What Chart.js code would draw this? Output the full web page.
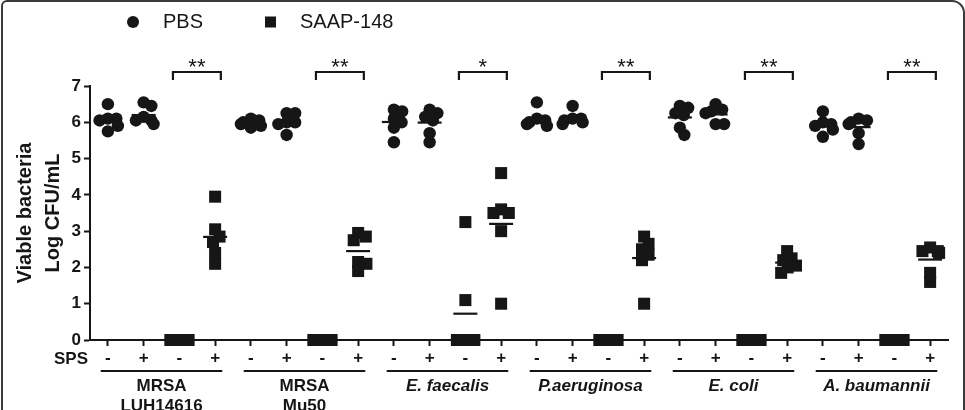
<!DOCTYPE html>
<html>
<head>
<meta charset="utf-8">
<script src="https://cdn.jsdelivr.net/npm/chart.js@4.4.1/dist/chart.umd.min.js"></script>
<style>
  html, body { margin: 0; padding: 0; background: #fff; }
  #wrap { position: absolute; left: 0; top: 0; width: 965px; height: 410px; overflow: hidden; }
  #frame { position: absolute; left: 1px; top: 0px; width: 960px; height: 430px;
           border: 2px solid #3a3a3a; border-radius: 6px 13px 0 0; pointer-events: none; }
  canvas { position: absolute; left: 0; top: 0; }
</style>
</head>
<body>
<div id="wrap">
  <canvas id="c" width="965" height="410"></canvas>
  <div id="frame"></div>
</div>
<script>
// ---------------- data ----------------
const GROUPS = [
  ['MRSA', 'LUH14616'],
  ['MRSA', 'Mu50'],
  ['E. faecalis'],
  ['P.aeruginosa'],
  ['E. coli'],
  ['A. baumannii']
];
const SERIES = ['PBS', 'SAAP-148'];
const SPS_TITLE = 'SPS';
const SPS_LABELS = ['-', '+', '-', '+', '-', '+', '-', '+', '-', '+', '-', '+',
                    '-', '+', '-', '+', '-', '+', '-', '+', '-', '+', '-', '+'];
const Y_TICKS = [0, 1, 2, 3, 4, 5, 6, 7];
const Y_TITLE = ['Viable bacteria', 'Log CFU/mL'];
const SIGNIFICANCE = ['**', '**', '*', '**', '**', '**'];

// Log CFU/mL per group (6 replicates each)
const PBS_NO_SPS = [
  [6.5, 6.1, 6.1, 6.05, 5.9, 5.75],
  [6.1, 6.05, 6.0, 5.95, 5.9, 5.85],
  [6.35, 6.3, 6.1, 6.0, 5.85, 5.45],
  [6.55, 6.1, 6.05, 6.0, 5.95, 5.9],
  [6.45, 6.4, 6.25, 6.2, 5.85, 5.65],
  [6.3, 6.0, 5.95, 5.9, 5.8, 5.6]
];
const PBS_SPS = [
  [6.55, 6.45, 6.15, 6.05, 6.05, 5.95],
  [6.25, 6.25, 6.0, 6.0, 5.95, 5.65],
  [6.35, 6.25, 6.15, 6.05, 5.7, 5.45],
  [6.45, 6.1, 6.1, 6.05, 6.0, 5.95],
  [6.5, 6.35, 6.3, 6.25, 5.95, 5.95],
  [6.1, 6.05, 6.0, 5.95, 5.7, 5.4]
];
const SAAP_NO_SPS = [
  [0, 0, 0, 0, 0, 0],
  [0, 0, 0, 0, 0, 0],
  [3.25, 1.1, 0, 0, 0, 0],
  [0, 0, 0, 0, 0, 0],
  [0, 0, 0, 0, 0, 0],
  [0, 0, 0, 0, 0, 0]
];
const SAAP_SPS = [
  [3.95, 3.05, 2.85, 2.7, 2.4, 2.1],
  [2.95, 2.85, 2.75, 2.15, 2.1, 1.9],
  [4.6, 3.6, 3.5, 3.5, 3.0, 1.0],
  [2.85, 2.65, 2.5, 2.35, 2.2, 1.0],
  [2.45, 2.25, 2.2, 2.05, 2.0, 1.85],
  [2.55, 2.45, 2.45, 2.4, 1.85, 1.6]
];

// ---------------- build ----------------
const FONT = '"Liberation Sans", Arial, Helvetica, sans-serif';
const INK = '#161616';
const mean = a => a.reduce((s, v) => s + v, 0) / a.length;

const pbsPts = [], saapPts = [], meanPts = [];
GROUPS.forEach((g, gi) => {
  const sets = [PBS_NO_SPS[gi], PBS_SPS[gi], SAAP_NO_SPS[gi], SAAP_SPS[gi]];
  sets.forEach((vals, k) => {
    const x = gi * 4 + k;
    const target = k < 2 ? pbsPts : saapPts;
    vals.forEach(v => target.push({ x, y: v }));
    meanPts.push({ x, y: mean(vals) });
  });
});

// deterministic beeswarm spread of points that share a category
const swarmPlugin = {
  id: 'swarm',
  afterDatasetsUpdate(chart) {
    chart.data.datasets.forEach((ds, di) => {
      if (!ds.swarm) return;
      const D = ds.swarm.gap, MAXW = ds.swarm.max;
      const meta = chart.getDatasetMeta(di);
      const groups = {};
      meta.data.forEach((el, i) => { const k = ds.data[i].x; (groups[k] = groups[k] || []).push(el); });
      Object.values(groups).forEach(els => {
        const cx = els[0].x;
        const placed = [];
        els.slice().sort((a, b) => a.y - b.y).forEach(el => {
          const cands = [0];
          placed.forEach(p => {
            const dy = el.y - p.y;
            if (Math.abs(dy) < D) {
              const dx = Math.sqrt(D * D - dy * dy);
              cands.push(p.dx + dx, p.dx - dx);
            }
          });
          cands.sort((a, b) => Math.abs(a) - Math.abs(b) || b - a);
          let best = 0;
          for (const c of cands) {
            if (placed.every(p => Math.hypot(c - p.dx, el.y - p.y) >= D - 0.01)) { best = c; break; }
          }
          best = Math.max(-MAXW, Math.min(MAXW, best));
          placed.push({ dx: best, y: el.y });
          el.x = cx + best;
        });
      });
    });
  }
};

// annotations: SPS row title, group bars/names, significance brackets, legend
const annotPlugin = {
  id: 'annot',
  afterDraw(chart) {
    const ctx = chart.ctx, xs = chart.scales.x, ca = chart.chartArea;
    ctx.save();
    ctx.fillStyle = INK; ctx.strokeStyle = INK;

    // SPS row title
    ctx.font = 'bold 17px ' + FONT;
    ctx.textAlign = 'right'; ctx.textBaseline = 'middle';
    ctx.fillText(SPS_TITLE, ca.left - 2, ca.bottom + 19);

    // group underlines and names
    GROUPS.forEach((g, gi) => {
      const x0 = xs.getPixelForValue(gi * 4 - 0.2);
      const x1 = xs.getPixelForValue(gi * 4 + 3 + 0.2);
      ctx.lineWidth = 2;
      ctx.beginPath(); ctx.moveTo(x0, ca.bottom + 31); ctx.lineTo(x1, ca.bottom + 31); ctx.stroke();
      ctx.font = (gi >= 2 ? 'italic ' : '') + 'bold 17px ' + FONT;
      ctx.textAlign = 'center'; ctx.textBaseline = 'middle';
      g.forEach((line, li) => ctx.fillText(line, (x0 + x1) / 2, ca.bottom + 46 + li * 20));
    });

    // significance brackets
    SIGNIFICANCE.forEach((s, gi) => {
      const x0 = xs.getPixelForValue(gi * 4 + 2 - 0.18);
      const x1 = xs.getPixelForValue(gi * 4 + 3 + 0.16);
      const yTop = ca.top - 14, yLeg = ca.top - 6;
      ctx.lineWidth = 2.2;
      ctx.beginPath();
      ctx.moveTo(x0, yLeg); ctx.lineTo(x0, yTop); ctx.lineTo(x1, yTop); ctx.lineTo(x1, yLeg);
      ctx.stroke();
      ctx.font = '22px ' + FONT;
      ctx.textAlign = 'center'; ctx.textBaseline = 'alphabetic';
      ctx.fillText(s, (x0 + x1) / 2, ca.top - 12);
    });

    // legend
    const lx = [133, 270.5], tx = [163, 300], ly = 22;
    const styles = chart.data.datasets.filter(d => d.legendIndex !== undefined);
    styles.forEach(ds => {
      const i = ds.legendIndex;
      ctx.fillStyle = INK;
      if (ds.pointStyle === 'circle') {
        ctx.beginPath(); ctx.arc(lx[i], ly, 6, 0, Math.PI * 2); ctx.fill();
      } else {
        ctx.fillRect(lx[i] - 5.5, ly - 5.5, 11, 11);
      }
      ctx.font = '20px ' + FONT;
      ctx.textAlign = 'left'; ctx.textBaseline = 'middle';
      ctx.fillText(SERIES[i], tx[i], ly);
    });
    ctx.restore();
  }
};

new Chart(document.getElementById('c'), {
  type: 'scatter',
  data: {
    datasets: [
      { label: 'mean', data: meanPts, pointStyle: 'line', pointRadius: 12, borderWidth: 2.2,
        borderColor: INK, backgroundColor: INK, clip: false },
      { label: SERIES[0], legendIndex: 0, data: pbsPts, pointStyle: 'circle', pointRadius: 6.2,
        borderWidth: 0, backgroundColor: INK, clip: false, swarm: { gap: 8.5, max: 10 } },
      { label: SERIES[1], legendIndex: 1, data: saapPts, pointStyle: 'rect', pointRadius: 8.5,
        borderWidth: 0, backgroundColor: INK, clip: false, swarm: { gap: 8.5, max: 9 } }
    ]
  },
  options: {
    responsive: false,
    animation: false,
    events: [],
    devicePixelRatio: 1,
    layout: { padding: { left: 0, top: 86, right: 17, bottom: 40 } },
    plugins: { legend: { display: false }, tooltip: { enabled: false }, title: { display: false } },
    scales: {
      x: {
        type: 'linear', min: -0.5, max: 23.5,
        afterBuildTicks: s => { s.ticks = SPS_LABELS.map((_, i) => ({ value: i })); },
        afterFit: s => { s.height = 30; },
        ticks: { callback: v => SPS_LABELS[v], color: INK, font: { family: FONT, size: 17, weight: 'bold' },
                 padding: 2, maxRotation: 0, autoSkip: false },
        grid: { drawOnChartArea: false, drawTicks: true, tickLength: 6, tickWidth: 2, tickColor: INK },
        border: { display: true, color: INK, width: 2 }
      },
      y: {
        min: 0, max: 7,
        afterBuildTicks: s => { s.ticks = Y_TICKS.map(v => ({ value: v })); },
        afterFit: s => { s.width = 90; },
        ticks: { color: INK, font: { family: FONT, size: 17, weight: 'bold' }, padding: 3 },
        grid: { drawOnChartArea: false, drawTicks: true, tickLength: 6, tickWidth: 2, tickColor: INK },
        border: { display: true, color: INK, width: 2 },
        title: { display: true, text: Y_TITLE, color: INK,
                 font: { family: FONT, size: 20, weight: 'bold', lineHeight: 1.4 },
                 padding: { top: 11, bottom: 0 } }
      }
    }
  },
  plugins: [swarmPlugin, annotPlugin]
});
</script>
</body>
</html>
